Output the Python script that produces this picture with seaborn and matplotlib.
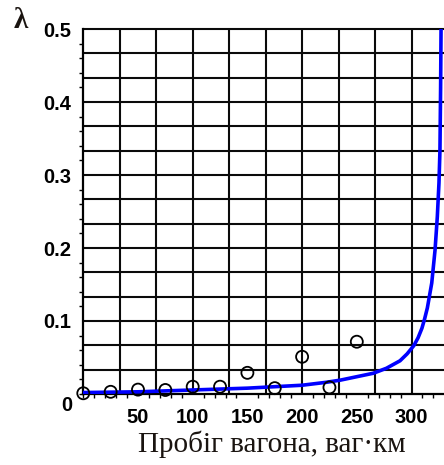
import numpy as np
import pandas as pd
import matplotlib
matplotlib.use("Agg")
import matplotlib.pyplot as plt
from matplotlib.ticker import MultipleLocator, FixedLocator
import seaborn as sns

# Observed failure intensity at given wagon mileage
obs_run = [0, 25, 50, 75, 100, 125, 150, 175, 200, 225, 250]
obs_lambda = [0.001, 0.003, 0.006, 0.0055, 0.010, 0.010, 0.029, 0.008, 0.051, 0.009, 0.0716]

# Fitted intensity curve
fit_run = [0, 50, 100, 150, 200, 222, 235, 250, 265, 277, 289.5, 296, 302,
           306, 309.5, 312, 314.5, 318.5, 321.5, 323.6, 325.1, 326, 326.6, 327]
fit_lambda = [0.002, 0.003, 0.0055, 0.008, 0.012, 0.016, 0.019, 0.0237, 0.0284,
              0.0352, 0.0455, 0.055, 0.066, 0.077, 0.09, 0.103, 0.118, 0.152,
              0.197, 0.243, 0.289, 0.334, 0.42, 0.5]

x_ticks = [50, 100, 150, 200, 250, 300]
y_ticks = [0.1, 0.2, 0.3, 0.4, 0.5]
y_tick_labels = ["0.1", "0.2", "0.3", "0.4", "0.5"]

obs = pd.DataFrame({"run": obs_run, "lam": obs_lambda})
fit = pd.DataFrame({"run": fit_run, "lam": fit_lambda})

sns.set_theme(style="white")
plt.rcParams["font.family"] = ["Liberation Sans", "DejaVu Sans"]

fig = plt.figure(figsize=(4.44, 4.65), dpi=100)
ax = fig.add_axes([0.1876, 0.1527, 0.8124, 0.7849])

x_max = 329.7
ax.set_xlim(0, x_max)
ax.set_ylim(0, 0.5)

# background grid: 10 x 15 cells
for gx in np.arange(1, 10) * (100 / 3):
    ax.axvline(gx, color="#0a0a0a", lw=1.5, zorder=1)
for gy in np.arange(1, 16) / 30:
    ax.axhline(gy, color="#0a0a0a", lw=1.5, zorder=1, clip_on=False)

sns.lineplot(data=fit, x="run", y="lam", ax=ax, color="#0000ff", lw=2.6,
             sort=False, zorder=3)
sns.scatterplot(data=obs, x="run", y="lam", ax=ax, marker="o", s=75,
                facecolor="none", edgecolor="black", linewidth=1.3,
                zorder=4, clip_on=False)

for side in ("top", "right"):
    ax.spines[side].set_visible(False)
for side in ("left", "bottom"):
    ax.spines[side].set_color("black")
    ax.spines[side].set_linewidth(1.6)

ax.xaxis.set_major_locator(FixedLocator(x_ticks))
ax.xaxis.set_minor_locator(MultipleLocator(10))
ax.yaxis.set_major_locator(FixedLocator(y_ticks))
ax.set_yticklabels(y_tick_labels)
ax.yaxis.set_minor_locator(MultipleLocator(0.02))

ax.tick_params(axis="both", which="major", direction="out", length=5, width=1.3,
               color="black", labelsize=14.5, labelcolor="black")
ax.tick_params(axis="both", which="minor", direction="out", length=3, width=1.0,
               color="black", bottom=True, left=True)
ax.tick_params(axis="x", which="major", pad=5)
ax.tick_params(axis="y", which="major", pad=4)
for lab in ax.get_xticklabels() + ax.get_yticklabels():
    lab.set_fontweight("bold")

ax.set_xlabel("")
ax.set_ylabel("")

fig.text(67 / 444, 1 - 405 / 465, "0", ha="center", va="center",
         fontsize=14.5, fontweight="bold", color="black")
fig.text(20.5 / 444, 1 - 21 / 465, "λ", ha="center", va="center",
         fontsize=21, fontweight="bold", family="Liberation Serif", color="#1a1410")
fig.text(272 / 444, 1 - 444 / 465, "Пробіг вагона, ваг·км", ha="center", va="center",
         fontsize=21, family="Liberation Serif", color="#1a1410")

fig.savefig("out.png", dpi=100)
